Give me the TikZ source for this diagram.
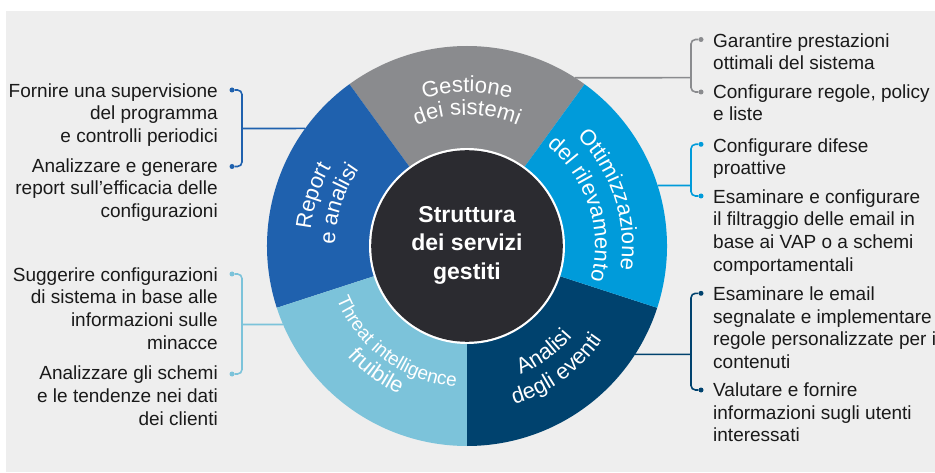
\documentclass[tikz,border=0pt]{standalone}
\usepackage{fontspec}
\setmainfont{Liberation Sans}
\usetikzlibrary{decorations.text}
\definecolor{bgcol}{HTML}{EEEEEE}
\definecolor{gestcol}{HTML}{8A8B8E}
\definecolor{repcol}{HTML}{1F61AE}
\definecolor{ottcol}{HTML}{009BDA}
\definecolor{anacol}{HTML}{00426E}
\definecolor{thrcol}{HTML}{7CC3DA}
\definecolor{midcol}{HTML}{2B2B30}
\definecolor{txtcol}{HTML}{1A1A1A}
\newcommand\segfont{\fontsize{22pt}{22pt}\selectfont\color{white}}
\newcommand\segfontsm{\fontsize{19pt}{19pt}\selectfont\color{white}}
\newcommand\sidefont{\fontsize{19pt}{22.8pt}\selectfont}
\begin{document}
\begin{tikzpicture}[x=1pt,y=1pt,
  lefttext/.style={anchor=north east, align=right, inner sep=0pt, font=\sidefont, text=txtcol},
  righttext/.style={anchor=north west, align=left, inner sep=0pt, font=\sidefont, text=txtcol},
  dotnode/.style={circle, inner sep=0pt, minimum size=5pt, fill=#1},
  conn/.style={draw=#1, line width=1.6pt, rounded corners=4.5pt},
  segtext/.style={decorate, decoration={text along path, text={#1}, text align=center}},
]
\useasboundingbox (0,0) rectangle (935,472);
\fill[white] (0,0) rectangle (935,472);
\fill[bgcol] (6,0) rectangle (935,461);
\coordinate (c) at (467,226);

% ---- connectors (left)
\node[dotnode=repcol] (l1a) at (232,382) {};
\node[dotnode=repcol] (l1b) at (232,305.5) {};
\coordinate (l1k) at (242,343.5);
\coordinate (l1e) at ([shift={(144:200pt)}]c);
\draw[conn=repcol] (l1a) -| (l1k) |- (l1b);
\draw[conn=repcol] (l1k) -- (l1e);

\node[dotnode=thrcol] (l2a) at (232,198) {};
\node[dotnode=thrcol] (l2b) at (232,98) {};
\coordinate (l2k) at (242,147.5);
\coordinate (l2e) at ([shift={(203.1:200pt)}]c);
\draw[conn=thrcol] (l2a) -| (l2k) |- (l2b);
\draw[conn=thrcol] (l2k) -- (l2e);

% ---- connectors (right)
\node[dotnode=gestcol] (r1a) at (701,432.5) {};
\node[dotnode=gestcol] (r1b) at (701,380) {};
\coordinate (r1k) at (691,394.3);
\coordinate (r1e) at ([shift={(57.3:200pt)}]c);
\draw[conn=gestcol] (r1a) -| (r1k) |- (r1b);
\draw[conn=gestcol] (r1k) -- (r1e);

\node[dotnode=ottcol] (r2a) at (701,327.7) {};
\node[dotnode=ottcol] (r2b) at (701,276) {};
\coordinate (r2k) at (691,286.5);
\coordinate (r2e) at ([shift={(17.6:200pt)}]c);
\draw[conn=ottcol] (r2a) -| (r2k) |- (r2b);
\draw[conn=ottcol] (r2k) -- (r2e);

\node[dotnode=anacol] (r3a) at (701,178.7) {};
\node[dotnode=anacol] (r3b) at (701,82) {};
\coordinate (r3k) at (691,117.7);
\coordinate (r3e) at ([shift={(-32.8:200pt)}]c);
\draw[conn=anacol] (r3a) -| (r3k) |- (r3b);
\draw[conn=anacol] (r3k) -- (r3e);

% ---- wheel
\begin{scope}[shift={(c)}]
\fill[gestcol] (0,0) -- (54:200pt) arc[start angle=54,end angle=126,radius=200pt] -- cycle;
\fill[repcol] (0,0) -- (126:200pt) arc[start angle=126,end angle=198,radius=200pt] -- cycle;
\fill[thrcol] (0,0) -- (198:200pt) arc[start angle=198,end angle=270,radius=200pt] -- cycle;
\fill[anacol] (0,0) -- (270:200pt) arc[start angle=270,end angle=342,radius=200pt] -- cycle;
\fill[ottcol] (0,0) -- (-18:200pt) arc[start angle=-18,end angle=54,radius=200pt] -- cycle;
\fill[white] (0,0) circle[radius=98pt];
\fill[midcol] (0,0) circle[radius=95.8pt];

\path[segtext={|\segfont|Gestione}] (126:154pt) arc[start angle=126,end angle=54,radius=154pt];
\path[segtext={|\segfont|dei sistemi}] (126:131pt) arc[start angle=126,end angle=54,radius=131pt];
\path[segtext={|\segfont|Report}] (198:157pt) arc[start angle=198,end angle=126,radius=157pt];
\path[segtext={|\segfont|e analisi}] (198:132pt) arc[start angle=198,end angle=126,radius=132pt];
\path[segtext={|\segfont|Ottimizzazione}] (54:155pt) arc[start angle=54,end angle=-18,radius=155pt];
\path[segtext={|\segfont|del rilevamento}] (54:128pt) arc[start angle=54,end angle=-18,radius=128pt];
\path[segtext={|\segfont|Analisi}] (270:139pt) arc[start angle=270,end angle=342,radius=139pt];
\path[segtext={|\segfont|degli eventi}] (270:165pt) arc[start angle=270,end angle=342,radius=165pt];
\path[segtext={|\segfontsm|Threat intelligence}] (198:141pt) arc[start angle=198,end angle=270,radius=141pt];
\path[segtext={|\segfont|fruibile}] (198:163pt) arc[start angle=198,end angle=270,radius=163pt];
\end{scope}

\node[font=\bfseries\fontsize{23pt}{28.5pt}\selectfont, text=white, align=center, inner sep=0pt] (title) at (467,227) {Struttura\\dei servizi\\gestiti};

% ---- side texts
\node[lefttext] (ta) at (218,388.9) {Fornire una supervisione\\del programma\\e controlli periodici};
\node[lefttext] (tb) at (218,313.9) {Analizzare e generare\\report sull'efficacia delle\\configurazioni};
\node[lefttext] (tc) at (218,204.9) {Suggerire configurazioni\\di sistema in base alle\\informazioni sulle\\minacce};
\node[lefttext] (td) at (218,106.3) {Analizzare gli schemi\\e le tendenze nei dati\\dei clienti};

\node[righttext] (te) at (713,438.9) {Garantire prestazioni\\ottimali del sistema};
\node[righttext] (tf) at (713,387.9) {Configurare regole, policy\\e liste};
\node[righttext] (tg) at (713,333.9) {Configurare difese\\proattive};
\node[righttext] (th) at (713,282.9) {Esaminare e configurare\\il filtraggio delle email in\\base ai VAP o a schemi\\comportamentali};
\node[righttext] (ti) at (713,185.6) {Esaminare le email\\segnalate e implementare\\regole personalizzate per i\\contenuti};
\node[righttext] (tj) at (713,89.6) {Valutare e fornire\\informazioni sugli utenti\\interessati};
\end{tikzpicture}
\end{document}
